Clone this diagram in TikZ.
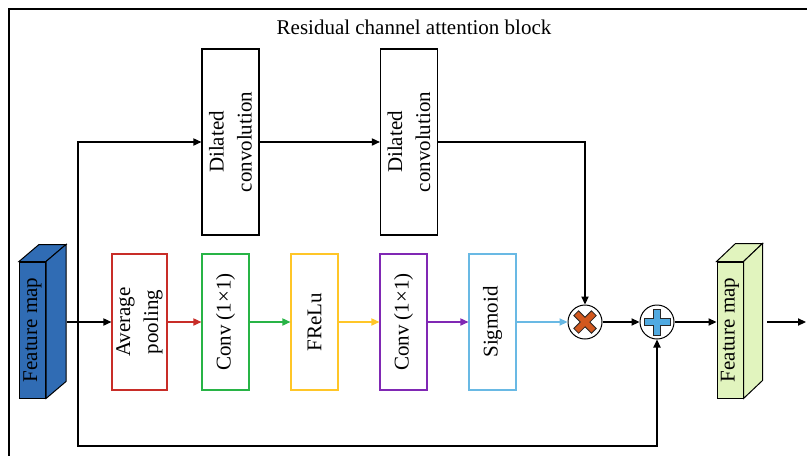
\documentclass[tikz,border=0pt]{standalone}
\usepackage{fontspec}
\setmainfont{Liberation Serif}
\usetikzlibrary{arrows.meta, calc}
\definecolor{FMBlue}{RGB}{48,108,180}
\definecolor{FMGreen}{RGB}{225,244,190}
\definecolor{StRed}{RGB}{200,45,40}
\definecolor{StGreen}{RGB}{40,180,70}
\definecolor{StGold}{RGB}{255,198,40}
\definecolor{StPurple}{RGB}{128,40,180}
\definecolor{StSky}{RGB}{105,185,228}
\definecolor{OpOrange}{RGB}{210,88,30}
\definecolor{OpCyan}{RGB}{80,170,225}

% plus-shaped outline: half arm width #1, half arm length #2
\newcommand{\plusglyph}[2]{(#1,#2) -- (#1,#1) -- (#2,#1) -- (#2,-#1) -- (#1,-#1)
  -- (#1,-#2) -- (-#1,-#2) -- (-#1,-#1) -- (-#2,-#1) -- (-#2,#1) -- (-#1,#1)
  -- (-#1,#2) -- cycle}

\begin{document}
\begin{tikzpicture}[
          x=0.5pt, y=-0.5pt,
          font=\fontsize{10.5}{14}\selectfont,
          blk/.style={rectangle, draw, fill=white, rotate=90, align=center,
                      inner sep=0pt, line width=0.6pt},
          dil/.style={blk, minimum width=93pt, minimum height=28.5pt},
          stage/.style={blk, minimum width=68pt, minimum height=23.5pt},
          fmap/.style={rectangle, draw, rotate=90, inner sep=0pt,
                       minimum width=68pt, minimum height=13pt, line width=0.5pt},
          op/.style={circle, draw, fill=white, minimum size=17pt,
                     inner sep=0pt, line width=0.5pt},
          arr/.style={-{Triangle[length=4pt, width=3.6pt]}, line width=0.6pt}
        ]
        \clip (0,0) rectangle (807,455);

        % Block frame and title
        \draw[line width=0.7pt] (9,480) |- (830,9);
        \node (title) at (414,27) {Residual channel attention block};

        % Input feature map
        \node[fmap, fill=FMBlue] (fin) at (32.5,330) {Feature map};
        \draw[fill=FMBlue, line width=0.5pt] (fin.north east) -- (fin.south east)
              -- ($(fin.south east)+(20,-17)$) -- ($(fin.north east)+(20,-17)$) -- cycle;
        \draw[fill=FMBlue, line width=0.5pt] (fin.south east) -- (fin.south west)
              -- ($(fin.south west)+(20,-17)$) -- ($(fin.south east)+(20,-17)$) -- cycle;

        % Dilated convolution branch
        \node[dil] (dil1) at (230.5,142) {Dilated\\convolution};
        \node[dil] (dil2) at (409,142) {Dilated\\convolution};

        % Channel attention stages
        \node[stage, draw=StRed, minimum height=27.5pt] (avg) at (139.5,322) {Average\\pooling};
        \node[stage, draw=StGreen]  (conv1) at (225.5,322) {Conv (1×1)};
        \node[stage, draw=StGold]   (frelu) at (314.5,322) {FReLu};
        \node[stage, draw=StPurple] (conv2) at (403.5,322) {Conv (1×1)};
        \node[stage, draw=StSky]    (sig)   at (492.5,322) {Sigmoid};

        % Multiply and add
        \node[op] (mul) at (585,322) {};
        \draw[fill=OpOrange, draw=black!85, line width=0.4pt, shift={(mul)}, rotate=45]
              \plusglyph{3.4}{12.5};
        \node[op] (add) at (657,322) {};
        \draw[fill=OpCyan, draw=black!85, line width=0.4pt, shift={(add)}]
              \plusglyph{3.8}{13};

        % Output feature map
        \node[fmap, fill=FMGreen] (fout) at (730,330) {Feature map};
        \draw[fill=FMGreen, line width=0.5pt] (fout.north east) -- (fout.south east)
              -- ($(fout.south east)+(19,-18)$) -- ($(fout.north east)+(19,-18)$) -- cycle;
        \draw[fill=FMGreen, line width=0.5pt] (fout.south east) -- (fout.south west)
              -- ($(fout.south west)+(19,-18)$) -- ($(fout.south east)+(19,-18)$) -- cycle;

        % Connectors
        \coordinate (fin-out) at (67,322);
        \coordinate (split) at (78,322);
        \coordinate (low) at (78,446);
        \coordinate (fout-out) at (767,322);
        \coordinate (exit) at (806,322);
        \draw[arr] (fin-out) -- (avg);
        \draw[arr] (split) |- (dil1);
        \draw[arr] (dil1) -- (dil2);
        \draw[arr] (dil2) -| (mul);
        \draw[arr, StRed]    (avg) -- (conv1);
        \draw[arr, StGreen]  (conv1) -- (frelu);
        \draw[arr, StGold]   (frelu) -- (conv2);
        \draw[arr, StPurple] (conv2) -- (sig);
        \draw[arr, StSky]    (sig) -- (mul);
        \draw[arr] (mul) -- (add);
        \draw[arr] (split) -- (low) -| (add);
        \draw[arr] (add) -- (add -| fout.north);
        \draw[arr] (fout-out) -- (exit);
      \end{tikzpicture}
\end{document}
